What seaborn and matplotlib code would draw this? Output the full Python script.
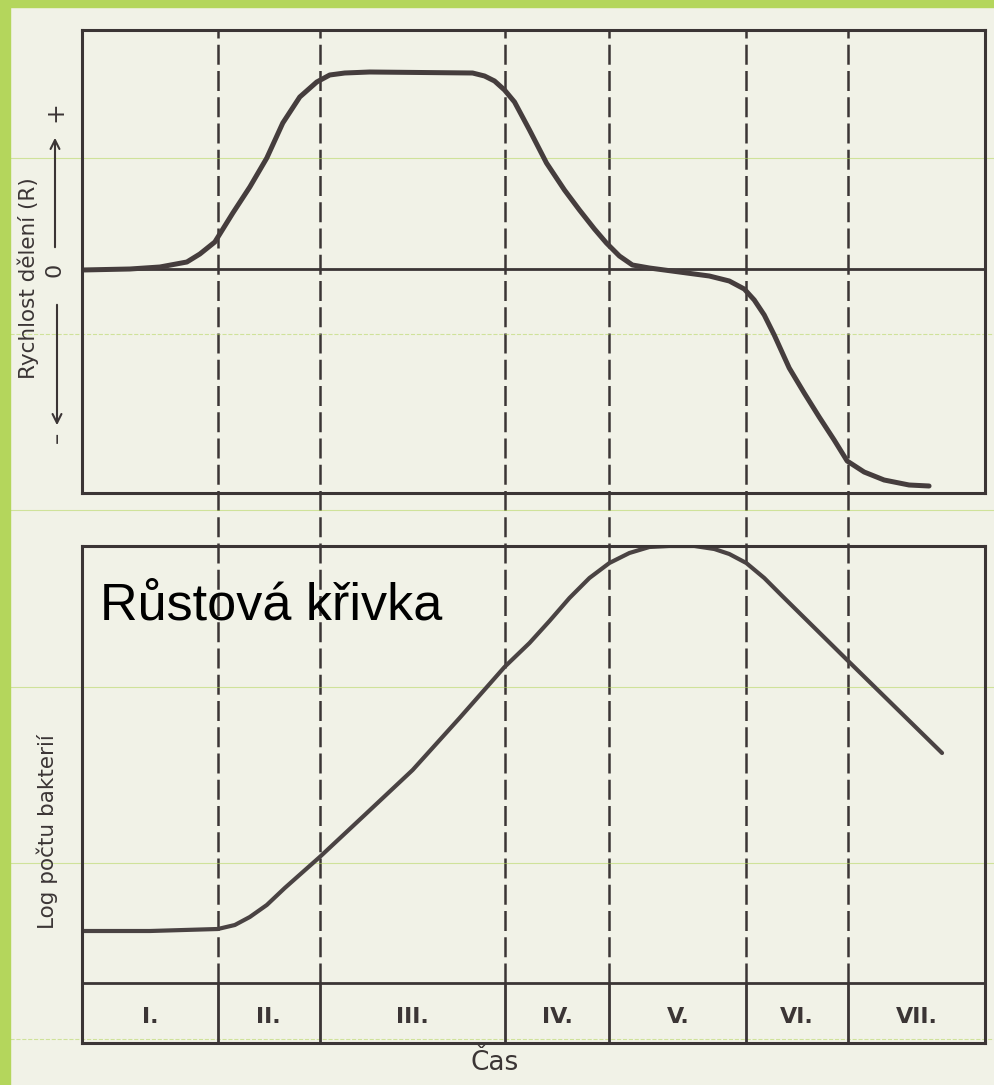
import matplotlib
matplotlib.use("Agg")
import matplotlib.pyplot as plt
from matplotlib.patches import Rectangle
from matplotlib.lines import Line2D
import numpy as np
import pandas as pd
import seaborn as sns

sns.set_theme(style="white")
plt.rcParams["font.family"] = ["DejaVu Sans"]

# time axis is in arbitrary units, box spans 0 .. 9.04
t_end = 9.04
phase_bounds = [1.36, 2.38, 4.23, 5.28, 6.65, 7.67]
phase_labels = ["I.", "II.", "III.", "IV.", "V.", "VI.", "VII."]

# rychlost deleni (R)
rate_t = [0.00, 0.48, 0.78, 1.05, 1.18, 1.33, 1.51, 1.68, 1.85, 2.01, 2.18,
          2.35, 2.48, 2.63, 2.88, 3.91, 4.03, 4.13, 4.23, 4.33, 4.48, 4.65,
          4.83, 4.98, 5.13, 5.25, 5.38, 5.51, 5.68, 5.98, 6.28, 6.48, 6.63,
          6.73, 6.83, 6.93, 7.08, 7.23, 7.38, 7.53, 7.66, 7.83, 8.03, 8.28, 8.48]
rate_r = [-0.01, 0.00, 0.02, 0.07, 0.15, 0.27, 0.56, 0.82, 1.11, 1.46, 1.72,
          1.87, 1.94, 1.96, 1.97, 1.96, 1.93, 1.88, 1.79, 1.67, 1.39, 1.06,
          0.79, 0.59, 0.40, 0.26, 0.13, 0.04, 0.01, -0.03, -0.07, -0.12, -0.20,
          -0.31, -0.46, -0.66, -0.99, -1.24, -1.48, -1.71, -1.92, -2.03, -2.11, -2.16, -2.17]
rate_lim = (-2.24, 2.39)

# log poctu bakterii
log_t = [0.00, 0.68, 1.36, 1.53, 1.68, 1.85, 2.03, 2.38, 2.83, 3.31, 3.78,
         4.23, 4.48, 4.68, 4.88, 5.08, 5.28, 5.48, 5.68, 5.88, 6.13, 6.33,
         6.48, 6.65, 6.83, 7.01, 7.66, 8.61]
log_n = [1.12, 1.12, 1.14, 1.18, 1.26, 1.38, 1.55, 1.86, 2.28, 2.73, 3.25,
         3.76, 4.00, 4.22, 4.45, 4.65, 4.80, 4.90, 4.96, 4.97, 4.97, 4.94,
         4.89, 4.80, 4.65, 4.47, 3.83, 2.90]
log_lim = (0.0, 4.97)
strip_top = 0.60

paper = "#f1f2e7"
ink = "#3b3535"
green = "#b4d65c"
W, H = 995, 1085


def box(x0, y0, x1, y1):
    # pixel box (top-left origin) -> figure fraction rect
    return [x0 / W, 1 - y1 / H, (x1 - x0) / W, (y1 - y0) / H]


fig = plt.figure(figsize=(W / 100, H / 100), dpi=100, facecolor=paper)

# green slide frame and faint guide lines of the scan
fig.patches.append(Rectangle((0, 0), 10 / W, 1, transform=fig.transFigure,
                             color=green, zorder=0))
fig.patches.append(Rectangle((0, 1 - 7 / H), 1, 7 / H, transform=fig.transFigure,
                             color=green, zorder=0))
for yy, ls in [(158, "-"), (334, "--"), (510, "-"), (687, "-"), (863, "-"), (1039, "--")]:
    fig.lines.append(Line2D([10 / W, 1], [1 - yy / H] * 2, transform=fig.transFigure,
                            color=green, lw=0.8, ls=ls, alpha=0.55, zorder=0.5))

# dashed phase boundaries run through both panels
ax_dash = fig.add_axes(box(82, 30, 985, 983), zorder=0)
ax_dash.set_xlim(0, t_end)
ax_dash.set_ylim(0, 1)
ax_dash.vlines(phase_bounds, 0, 1, colors=ink, lw=1.8, linestyles=(0, (8, 2.5)))
ax_dash.axis("off")

ax_top = fig.add_axes(box(82, 30, 985, 493), zorder=1)
ax_bot = fig.add_axes(box(82, 546, 985, 1043), zorder=1)

for ax, lim in [(ax_top, rate_lim), (ax_bot, log_lim)]:
    ax.set_facecolor("none")
    ax.set_xlim(0, t_end)
    ax.set_ylim(*lim)
    ax.set_xticks([])
    ax.set_yticks([])
    for s in ax.spines.values():
        s.set_visible(True)
        s.set_color(ink)
        s.set_linewidth(2.2)

# upper panel
ax_top.axhline(0, color=ink, lw=2.0)
sns.lineplot(x=rate_t, y=rate_r, ax=ax_top, color="#453d3d", lw=3.6,
             solid_joinstyle="round", solid_capstyle="round")
ax_top.set_xlabel("")
ax_top.set_ylabel("")

# lower panel
sns.lineplot(x=log_t, y=log_n, ax=ax_bot, color="#4a4343", lw=3.0,
             solid_joinstyle="round", solid_capstyle="round")
ax_bot.set_xlabel("")
ax_bot.set_ylabel("")
ax_bot.axhline(strip_top, color=ink, lw=2.0)
ax_bot.vlines(phase_bounds, 0, strip_top, colors=ink, lw=2.0)
edges = [0] + phase_bounds + [t_end]
narrow = ["Liberation Sans Narrow", "DejaVu Sans"]
for i, lab in enumerate(phase_labels):
    ax_bot.text((edges[i] + edges[i + 1]) / 2, strip_top * 0.44, lab,
                ha="center", va="center", fontsize=16, color=ink,
                family=narrow, fontweight="semibold")

ax_bot.text(0.18, 4.23, "Růstová křivka", fontsize=37.5, color="black",
            family=["Liberation Sans", "DejaVu Sans"], va="baseline", ha="left")

# axis texts
fig.text(28 / W, 1 - 278 / H, "Rychlost dělení (R)", rotation=90, fontsize=15.5,
         color=ink, ha="center", va="center")
fig.text(47 / W, 1 - 832 / H, "Log počtu bakterií", rotation=90, fontsize=15.5,
         color=ink, ha="center", va="center")
fig.text(55 / W, 1 - 270 / H, "0", rotation=90, fontsize=16, color=ink,
         ha="center", va="center")
fig.text(55 / W, 1 - 112 / H, "+", rotation=90, fontsize=18, color=ink,
         ha="center", va="center")
fig.text(57 / W, 1 - 437 / H, "–", rotation=90, fontsize=16, color=ink,
         ha="center", va="center")
fig.text(495 / W, 1 - 1063 / H, "Čas", fontsize=19, color=ink, family=narrow,
         ha="center", va="center")

ax_top.annotate("", xy=(55 / W, 1 - 135 / H), xytext=(55 / W, 1 - 250 / H),
                xycoords="figure fraction", textcoords="figure fraction",
                arrowprops=dict(arrowstyle="->", color=ink, lw=1.5, mutation_scale=16))
ax_top.annotate("", xy=(57 / W, 1 - 428 / H), xytext=(57 / W, 1 - 302 / H),
                xycoords="figure fraction", textcoords="figure fraction",
                arrowprops=dict(arrowstyle="->", color=ink, lw=1.5, mutation_scale=16))

fig.savefig("out.png", dpi=100, facecolor=paper)
